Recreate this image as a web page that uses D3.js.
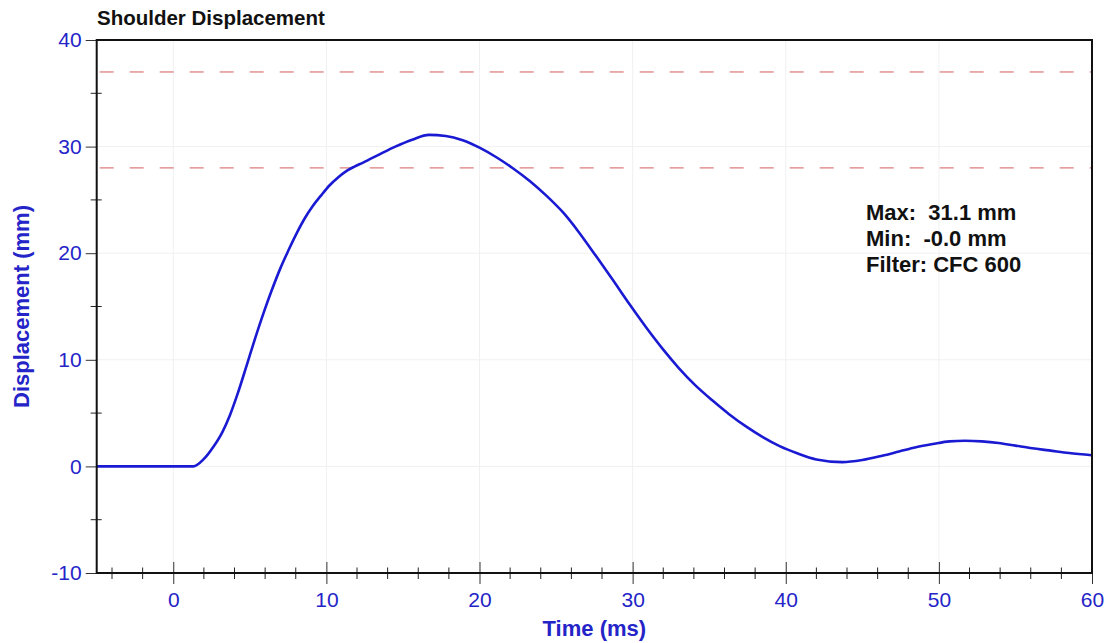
<!DOCTYPE html>
<html><head><meta charset="utf-8">
<script src="https://cdn.jsdelivr.net/npm/d3@7"></script>
<style>
html,body{margin:0;padding:0;background:#fff;}
text{font-family:"Liberation Sans",Arial,sans-serif;}
</style></head>
<body><svg id="c" width="1113" height="643"></svg>
<script>
const timeMs = [-5,0,1.3,2.0,2.6,3.2,3.7,4.2,4.8,5.3,5.9,6.4,7.0,7.5,8.0,8.6,9.1,9.7,10.2,10.8,11.3,11.8,12.4,13.5,14.5,15.6,16.7,17.8,18.9,20.0,21.1,22.2,23.3,24.4,25.5,26.5,27.6,28.7,29.8,30.9,32.0,33.0,34.1,35.2,36.3,37.4,38.5,39.6,40.7,42.0,43.7,45.0,46.3,47.4,48.5,49.6,50.7,51.7,52.8,53.9,55.0,56.1,57.2,58.5,60];
const displacement = [0,0,0,0.7,1.8,3.2,4.8,6.8,9.5,11.8,14.4,16.4,18.6,20.2,21.7,23.3,24.4,25.5,26.35,27.15,27.7,28.1,28.5,29.3,30.0,30.65,31.1,31.0,30.6,29.9,29.0,27.95,26.75,25.35,23.75,21.95,19.75,17.5,15.2,13.0,10.95,9.25,7.6,6.2,4.9,3.75,2.75,1.9,1.25,0.65,0.4,0.6,1.0,1.4,1.8,2.1,2.35,2.4,2.35,2.2,1.95,1.7,1.5,1.25,1.05];
const limitLines = [37, 28];
const xTicks = [0,10,20,30,40,50,60];
const xMinor = [-4,-2,2,4,6,8,12,14,16,18,22,24,26,28,32,34,36,38,42,44,46,48,52,54,56,58];
const yTicks = [-10,0,10,20,30,40];
const yMinor = [-5,5,15,25,35];
const title = "Shoulder Displacement";
const xLabel = "Time (ms)";
const yLabel = "Displacement (mm)";
const annotation = ["Max:  31.1 mm", "Min:  -0.0 mm", "Filter: CFC 600"];

const L = 96.7, R = 1092, T = 40, B = 573;
const svg = d3.select("#c");
const x = d3.scaleLinear().domain([-5,60]).range([L,R]);
const y = d3.scaleLinear().domain([-10,40]).range([B,T]);
const blue = "#2424c8";

// faint grid
svg.append("g").selectAll("line").data(xTicks.filter(d=>d<60)).join("line")
  .attr("x1",d=>x(d)).attr("x2",d=>x(d)).attr("y1",T).attr("y2",B)
  .attr("stroke","#f0f0f0").attr("stroke-width",1);
svg.append("g").selectAll("line").data(yTicks.filter(d=>d>-10&&d<40)).join("line")
  .attr("y1",d=>y(d)).attr("y2",d=>y(d)).attr("x1",L).attr("x2",R)
  .attr("stroke","#f0f0f0").attr("stroke-width",1);

// limit lines
svg.append("g").selectAll("line").data(limitLines).join("line")
  .attr("x1",L+3).attr("x2",R).attr("y1",d=>y(d)).attr("y2",d=>y(d))
  .attr("stroke","#d45c5c").attr("stroke-width",1).attr("stroke-dasharray","14,16");

// curve
const line = d3.line().x((d,i)=>x(timeMs[i])).y(d=>y(d)).curve(d3.curveMonotoneX);
svg.append("path").attr("d",line(displacement)).attr("fill","none")
  .attr("stroke","#1a1ad2").attr("stroke-width",2.6).attr("stroke-linejoin","round");

// axes via d3
const xAxis = svg.append("g").attr("transform",`translate(0,${B})`)
  .call(d3.axisBottom(x).tickValues(xTicks).tickSize(11).tickPadding(8).tickFormat(d=>String(d)));
xAxis.select(".domain").remove();
xAxis.selectAll("line").attr("stroke","#333").attr("y1",-11);
xAxis.selectAll("text").attr("fill",blue).attr("font-size","21px").attr("font-family","Liberation Sans, Arial, sans-serif");

const yAxis = svg.append("g").attr("transform",`translate(${L},0)`)
  .call(d3.axisLeft(y).tickValues(yTicks).tickSize(11).tickPadding(4).tickFormat(d=>String(d)));
yAxis.select(".domain").remove();
yAxis.selectAll("line").attr("stroke","#333");
yAxis.selectAll("text").attr("fill",blue).attr("font-size","21px").attr("font-family","Liberation Sans, Arial, sans-serif");

// minor ticks
svg.append("g").selectAll("line").data(xMinor).join("line")
  .attr("x1",d=>x(d)).attr("x2",d=>x(d)).attr("y1",B-5.5).attr("y2",B+6)
  .attr("stroke","#222").attr("stroke-width",1);
svg.append("g").selectAll("line").data(yMinor).join("line")
  .attr("y1",d=>y(d)).attr("y2",d=>y(d)).attr("x1",L-6).attr("x2",L+5)
  .attr("stroke","#222").attr("stroke-width",1);

// frame
svg.append("rect").attr("x",L).attr("y",T).attr("width",R-L).attr("height",B-T)
  .attr("fill","none").attr("stroke","#111").attr("stroke-width",2);

// texts
svg.append("text").attr("x",97).attr("y",25).attr("font-size","20.5px").attr("font-weight","bold")
  .attr("fill","#111").text(title);
svg.append("text").attr("x",(L+R)/2).attr("y",636).attr("text-anchor","middle")
  .attr("font-size","22px").attr("font-weight","bold").attr("fill",blue).text(xLabel);
svg.append("text").attr("transform",`translate(29,${(T+B)/2}) rotate(-90)`).attr("text-anchor","middle")
  .attr("font-size","22px").attr("font-weight","bold").attr("fill",blue).text(yLabel);
svg.append("g").selectAll("text").data(annotation).join("text")
  .attr("x",866).attr("y",(d,i)=>220+i*26).attr("font-size","22px").attr("font-weight","bold")
  .attr("fill","#111").attr("xml:space","preserve").style("white-space","pre").text(d=>d);
</script></body></html>
